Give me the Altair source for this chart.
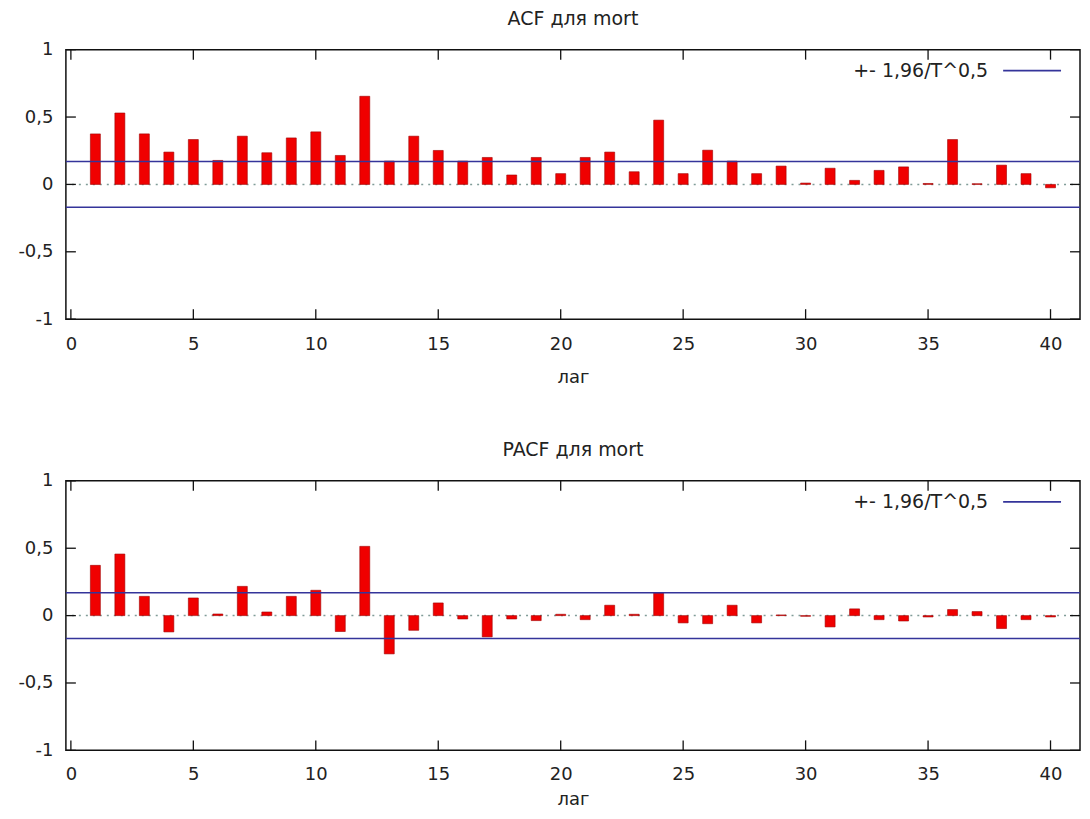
import altair as alt
import pandas as pd

lags = list(range(1, 41))
acf = [0.375, 0.53, 0.375, 0.24, 0.333, 0.178, 0.358, 0.235, 0.345, 0.39,
       0.215, 0.654, 0.173, 0.358, 0.252, 0.173, 0.2, 0.07, 0.2, 0.08,
       0.2, 0.24, 0.094, 0.477, 0.08, 0.254, 0.173, 0.08, 0.136, 0.01,
       0.12, 0.03, 0.104, 0.13, 0.007, 0.333, 0.005, 0.143, 0.08, -0.025]
pacf = [0.373, 0.457, 0.143, -0.121, 0.131, 0.012, 0.217, 0.027, 0.143, 0.188,
        -0.118, 0.514, -0.284, -0.109, 0.094, -0.025, -0.158, -0.025, -0.037, 0.01,
        -0.03, 0.077, 0.01, 0.168, -0.054, -0.06, 0.077, -0.054, 0.005, -0.005,
        -0.084, 0.05, -0.03, -0.04, -0.01, 0.045, 0.03, -0.096, -0.03, -0.01]
bands = [0.17, -0.17]
x_ticks = [0, 5, 10, 15, 20, 25, 30, 35, 40]
y_ticks = [-1, -0.5, 0, 0.5, 1]
legend_text = "+- 1,96/T^0,5"
x_title = "лаг"

W, H = 1016, 270
FONT = "DejaVu Sans"
FS = 18
FST = 19
BLUE = "#34349a"
RED = "#f00000"


def panel(values, title, label_pad, title_pad):
    df = pd.DataFrame({"lag": lags, "value": values})
    xs = alt.Scale(domain=[0, 41], nice=False)
    ys = alt.Scale(domain=[-1, 1], nice=False)
    xaxis = alt.Axis(values=x_ticks, grid=False, ticks=False, tickSize=0, domain=False,
                     labelFlush=False, labelPadding=label_pad, titlePadding=title_pad,
                     labelFontSize=FS, titleFontSize=FS, titleFontWeight="normal",
                     labelFont=FONT, titleFont=FONT, labelColor="#222", titleColor="#222")
    yaxis = alt.Axis(values=y_ticks, grid=False, ticks=False, tickSize=0, domain=False,
                     labelFlush=False, labelPadding=13, labelFontSize=FS, labelFont=FONT,
                     labelColor="#222",
                     labelExpr="replace('' + datum.value, '.', ',')", title=None)

    zero = alt.Chart(pd.DataFrame({"z": [0]})).mark_rule(
        color="#809c98", strokeDash=[2, 5], strokeWidth=1.5
    ).encode(y=alt.Y("z:Q", scale=ys, axis=yaxis))

    bars = alt.Chart(df).mark_bar(size=10, color=RED, stroke="#a00000", strokeWidth=0.6).encode(
        x=alt.X("lag:Q", scale=xs, axis=xaxis, title=x_title),
        y=alt.Y("value:Q", scale=ys, axis=yaxis),
        y2=alt.datum(0),
    )

    band = alt.Chart(pd.DataFrame({"b": bands})).mark_rule(
        color=BLUE, strokeWidth=1.6
    ).encode(y=alt.Y("b:Q", scale=ys))

    tdf = pd.DataFrame({"t": x_ticks})
    top_ticks = alt.Chart(tdf).mark_rule(color="#111", strokeWidth=1.3).encode(
        x=alt.X("t:Q", scale=xs), y=alt.value(0), y2=alt.value(10))
    bot_ticks = alt.Chart(tdf).mark_rule(color="#111", strokeWidth=1.3).encode(
        x=alt.X("t:Q", scale=xs), y=alt.value(H - 10), y2=alt.value(H))
    ydf = pd.DataFrame({"t": y_ticks})
    left_ticks = alt.Chart(ydf).mark_rule(color="#111", strokeWidth=1.3).encode(
        y=alt.Y("t:Q", scale=ys), x=alt.value(0), x2=alt.value(10))
    right_ticks = alt.Chart(ydf).mark_rule(color="#111", strokeWidth=1.3).encode(
        y=alt.Y("t:Q", scale=ys), x=alt.value(W - 10), x2=alt.value(W))

    ldf = pd.DataFrame({"t": [legend_text]})
    leg_text = alt.Chart(ldf).mark_text(
        align="right", baseline="middle", font=FONT, fontSize=FST, color="#222"
    ).encode(text="t:N", x=alt.value(W - 92), y=alt.value(21))
    leg_line = alt.Chart(ldf).mark_rule(color=BLUE, strokeWidth=1.6).encode(
        x=alt.value(W - 77), x2=alt.value(W - 19), y=alt.value(21))

    return alt.layer(
        zero, bars, band, top_ticks, bot_ticks, left_ticks, right_ticks, leg_text, leg_line
    ).properties(
        width=W, height=H,
        title=alt.TitleParams(title, font=FONT, fontSize=FST, fontWeight="normal",
                              color="#222", anchor="middle", offset=12),
    )


chart = alt.vconcat(
    panel(acf, "ACF для mort", 16, 15),
    panel(pacf, "PACF для mort", 15, 7),
    spacing=53,
).properties(
    padding={"left": 9, "top": 0, "right": 0, "bottom": 0},
    background="white",
).configure_view(
    stroke="#111", strokeWidth=1.5
)

chart.save("out.html", embed_options={"renderer": "svg", "actions": False})
